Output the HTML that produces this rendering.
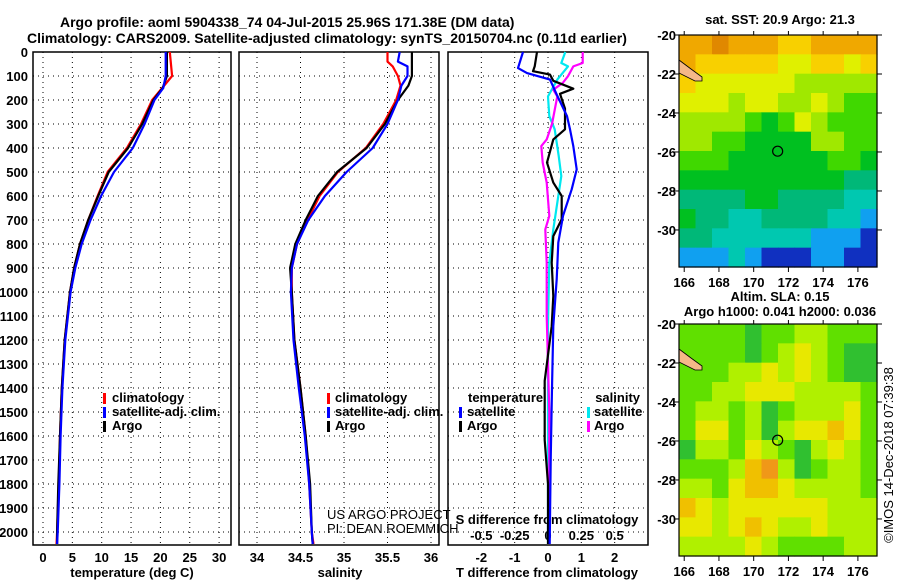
<!DOCTYPE html>
<html><head><meta charset="utf-8">
<style>
html,body{margin:0;padding:0;background:#fff;}
svg{display:block;font-family:"Liberation Sans",Arial,sans-serif;}
.b{font-weight:bold;font-size:13px;}
.t{font-weight:bold;font-size:14px;}
</style></head>
<body>
<svg id="fig" width="900" height="580" viewBox="0 0 900 580" xmlns="http://www.w3.org/2000/svg">
<rect width="900" height="580" fill="#fff"/>
<text class="t" x="60" y="27">Argo profile: aoml 5904338_74 04-Jul-2015 25.96S 171.38E (DM data)</text>
<text class="t" x="27" y="43">Climatology: CARS2009. Satellite-adjusted climatology: synTS_20150704.nc (0.11d earlier)</text>
<g id="g"></g>
</svg>
<script>
// ---- data ----
const depthTicks=[0,100,200,300,400,500,600,700,800,900,1000,1100,1200,1300,1400,1500,1600,1700,1800,1900,2000];
const tTicks=[0,5,10,15,20,25,30];
const sTicks=[34,34.5,35,35.5,36];
const dtTicks=[-2,-1,0,1,2];
const dsTicks=[-0.5,-0.25,0,0.25,0.5];
const dsTickLabels=["-0.5","-0.25","0","0.25","0.5"];
const lonTicks=[166,168,170,172,174,176];
const latTicks=[-20,-22,-24,-26,-28,-30];

const tDepth=[0,100,150,200,300,400,500,600,700,800,900,1000,1200,1400,1600,1800,2000,2050];
const tClim=[21.6,22.0,20.3,18.6,16.7,14.3,11.0,9.3,7.7,6.3,5.3,4.6,3.7,3.2,2.9,2.7,2.4,2.3];
const tSat=[20.9,20.9,20.5,19.0,17.3,15.3,12.1,9.9,8.1,6.6,5.5,4.7,3.8,3.3,3.0,2.8,2.5,2.4];
const tArgo=[21.1,21.1,20.4,18.8,16.9,14.5,11.2,9.4,7.7,6.3,5.3,4.6,3.7,3.2,2.9,2.6,2.4,2.4];

const sDepth=[0,40,60,100,140,200,300,400,500,600,700,800,900,1000,1200,1400,1600,1800,2000,2050];
const sClim=[35.50,35.50,35.56,35.62,35.65,35.60,35.45,35.25,34.93,34.72,34.58,34.46,34.40,34.40,34.43,34.50,34.56,34.60,34.63,34.65];
const sSat=[35.64,35.62,35.73,35.73,35.66,35.62,35.50,35.33,35.03,34.78,34.59,34.46,34.40,34.39,34.42,34.48,34.55,34.60,34.63,34.64];
const sArgo=[35.78,35.78,35.78,35.78,35.74,35.62,35.47,35.26,34.92,34.70,34.56,34.44,34.38,34.40,34.43,34.50,34.56,34.61,34.63,34.64];

const dtSatDepth=[0,67,88,115,177,267,322,392,489,572,683,794,947,1142,1400,1700,2050];
const dtSat=[-0.75,-0.9,-0.63,0.06,0.26,0.57,0.66,0.76,0.86,0.71,0.45,0.31,0.26,0.16,0.12,0.08,0.05];
const dtArgoDepth=[0,60,80,94,120,153,174,236,322,364,461,544,600,697,767,878,1017,1142,1370,1617,1800,2050];
const dtArgo=[-0.33,-0.4,-0.45,0.06,0.16,0.76,0.36,0.51,0.51,0.16,-0.03,0.16,0.41,0.41,0.16,0.11,0.16,0.11,-0.1,-0.1,0.0,0.0];
const dsSatDepth=[0,46,60,115,185,267,322,433,517,628,739,878,1142,1500,2050];
const dsSat=[0.13,0.1,0.15,0.07,0.0,0.01,0.05,0.08,0.1,0.07,0.04,0.01,0.0,0.0,0.0];
const dsArgoDepth=[0,46,60,101,129,157,185,300,364,392,461,544,683,739,878,1100,1500,2050];
const dsArgo=[0.26,0.26,0.19,0.15,0.11,0.04,0.07,0.03,-0.01,-0.05,-0.04,-0.01,0.01,-0.02,-0.01,-0.01,0.01,0.01];

const sstGrid=[
[9,9,10,9,9,9,8,8,9,9,9,9],
[9,8,8,8,8,8,7,7,8,8,7,8],
[8,7,7,7,7,7,7,6,6,6,6,6],
[7,7,7,6,7,7,6,6,7,6,5,5],
[6,6,6,6,5,4,5,7,6,5,5,5],
[6,6,5,5,4,4,4,4,6,6,5,5],
[5,5,5,4,4,4,4,4,4,5,5,4],
[4,4,4,4,4,4,4,4,4,4,3,3],
[3,3,3,3,4,4,3,3,3,3,2,2],
[4,3,3,2,2,3,3,3,3,2,2,1],
[3,3,2,2,2,2,2,2,1,1,1,0],
[1,1,1,2,1,0,0,0,1,1,0,0]];
const slaGrid=[
[2,2,2,2,1,2,2,3,3,2,2,2],
[2,2,2,2,1,2,3,4,3,2,1,1],
[2,2,2,3,3,4,3,4,3,2,1,1],
[2,2,3,3,4,4,4,3,3,3,3,2],
[2,3,3,2,3,1,2,3,3,3,4,2],
[2,4,4,2,3,1,3,4,4,5,4,2],
[1,3,3,2,4,3,2,1,3,4,3,2],
[2,2,2,3,5,6,3,1,2,3,3,2],
[3,3,2,4,5,5,4,3,3,3,3,2],
[5,4,3,4,4,4,4,4,4,3,3,3],
[4,4,3,4,5,4,3,3,4,3,3,3],
[3,3,3,3,4,3,2,2,2,2,3,3]];
const floatLon=171.38, floatLat=-25.96;

const sstColors=["#1030c0","#10a0f0","#00c8b0","#00b878","#00c020","#40d800","#a0e800","#e0f000","#f8d000","#f0a800","#e08800"];
const slaColors=["#20a858","#30c030","#60e000","#b0f000","#e8e800","#f0c000","#f09818"];

// ---- helpers ----
const NS="http://www.w3.org/2000/svg";
const G=document.getElementById('g');
function mk(tag,attrs,parent){const e=document.createElementNS(NS,tag);for(const k in attrs)e.setAttribute(k,attrs[k]);(parent||G).appendChild(e);return e;}
const Y=d=>52+0.24*d;
const xT=v=>43+5.87*v;
const xS=v=>257+87*(v-34);
const xDT=v=>548+33.33*v;
const xDS=v=>548+133.3*v;

function panel(x0,x1,xs,name){
  const f=mk('rect',{x:x0,y:52,width:x1-x0,height:493,fill:'none',stroke:'#000','stroke-width':1.5});
  
  
  xs.forEach(x=>{const l=mk('line',{x1:x,x2:x,y1:52,y2:545,stroke:'#000','stroke-width':1,'stroke-dasharray':'1,4'});
    
    });
  depthTicks.forEach(d=>{const l=mk('line',{x1:x0,x2:x1,y1:Y(d),y2:Y(d),stroke:'#000','stroke-width':1,'stroke-dasharray':'1,4'});
    
    });
}
function line(depths,vals,xf,color,name){
  let p='';depths.forEach((d,i)=>{p+=(i?'L':'M')+xf(vals[i]).toFixed(1)+','+Y(d).toFixed(1);});
  const e=mk('path',{d:p,fill:'none',stroke:color,'stroke-width':2.2,'stroke-linejoin':'round'});
  
  
}
function txt(x,y,s,cls,anchor,name,fill){
  const e=mk('text',{x:x,y:y,'class':cls,'text-anchor':anchor||'start',fill:fill||'#000'});e.textContent=s;
  
  
  return e;
}
function legMark(x,y,color,name){const e=mk('rect',{x:x,y:y-10,width:3,height:11,fill:color});
  
  }

// panel 1 temperature
panel(33,231,tTicks.map(xT),'temperature-panel');
depthTicks.forEach(d=>txt(28,Y(d)+5,String(d),'b','end','depth-tick-label'));
tTicks.forEach(t=>txt(xT(t),562,String(t),'b','middle','temperature-tick-label'));
txt(132,577,'temperature (deg C)','b','middle','temperature-axis-title');
line(tDepth,tClim,xT,'#f00','temperature-climatology-line');
line(tDepth,tArgo,xT,'#000','temperature-argo-line');
line(tDepth,tSat,xT,'#00f','temperature-satellite-line');
legMark(103,403,'#f00','legend-climatology-mark');txt(112,402,'climatology','b','start','legend-climatology');
legMark(103,417,'#00f','legend-satellite-mark');txt(112,416,'satellite-adj. clim.','b','start','legend-satellite');
legMark(103,431,'#000','legend-argo-mark');txt(112,430,'Argo','b','start','legend-argo');

// panel 2 salinity
panel(239,439,sTicks.map(xS),'salinity-panel');
sTicks.forEach(s=>txt(xS(s),562,String(s),'b','middle','salinity-tick-label'));
txt(340,577,'salinity','b','middle','salinity-axis-title');
line(sDepth,sClim,xS,'#f00','salinity-climatology-line');
line(sDepth,sArgo,xS,'#000','salinity-argo-line');
line(sDepth,sSat,xS,'#00f','salinity-satellite-line');
legMark(327,403,'#f00','legend2-climatology-mark');txt(335,402,'climatology','b','start','legend2-climatology');
legMark(327,417,'#00f','legend2-satellite-mark');txt(335,416,'satellite-adj. clim.','b','start','legend2-satellite');
legMark(327,431,'#000','legend2-argo-mark');txt(335,430,'Argo','b','start','legend2-argo');
txt(327,519,'US ARGO PROJECT','','start','credit-project').setAttribute('style','font-size:13px');
txt(327,533,'PI: DEAN ROEMMICH','','start','credit-pi').setAttribute('style','font-size:13px');

// panel 3 differences
panel(448,648,dtTicks.map(xDT),'difference-panel');
dtTicks.forEach(v=>txt(xDT(v),562,String(v),'b','middle','t-diff-tick-label'));
txt(547,577,'T difference from climatology','b','middle','t-diff-axis-title');
dsTicks.forEach((v,i)=>txt(xDS(v),540,dsTickLabels[i],'b','middle','s-diff-tick-label'));
txt(547,524,'S difference from climatology','b','middle','s-diff-axis-title');
line(dsSatDepth,dsSat,xDS,'#00e8f0','s-diff-satellite-line');
line(dsArgoDepth,dsArgo,xDS,'#f0f','s-diff-argo-line');
line(dtArgoDepth,dtArgo,xDT,'#000','t-diff-argo-line');
line(dtSatDepth,dtSat,xDT,'#00f','t-diff-satellite-line');
txt(468,402,'temperature','b','start','legend3-temperature-header');
legMark(459,417,'#00f','legend3-t-satellite-mark');txt(467,416,'satellite','b','start','legend3-t-satellite');
legMark(459,431,'#000','legend3-t-argo-mark');txt(467,430,'Argo','b','start','legend3-t-argo');
txt(640,402,'salinity','b','end','legend3-salinity-header');
legMark(587,417,'#00e8f0','legend3-s-satellite-mark');txt(594,416,'satellite','b','start','legend3-s-satellite');
legMark(587,431,'#f0f','legend3-s-argo-mark');txt(594,430,'Argo','b','start','legend3-s-argo');

// maps
function map(top,grid,colors,name){
  const L=679,R=877,H=232,lon0=165.7,lon1=177.1,lat0=-20,lat1=-31.9;
  const mx=lon=>L+(lon-lon0)/(lon1-lon0)*(R-L);
  const my=lat=>top+(lat0-lat)/(lat0-lat1)*H;
  const rows=grid.length,cols=grid[0].length,cw=(R-L)/cols,ch=H/rows;
  grid.forEach((row,r)=>row.forEach((v,c)=>{
    const e=mk('rect',{x:(L+c*cw).toFixed(2),y:(top+r*ch).toFixed(2),width:(cw+0.6).toFixed(2),height:(ch+0.6).toFixed(2),fill:colors[v]});
    
    
  }));
  const land=mk('path',{d:`M${L},${top+25}L${L+12},${top+34}L${L+23},${top+42}L${L+23},${top+46}L${L+16},${top+46}L${L},${top+38}Z`,fill:'#f5b888',stroke:'#000','stroke-width':0.8});
  
  
  const c=mk('circle',{cx:mx(floatLon),cy:my(floatLat),r:5,fill:'none',stroke:'#000','stroke-width':1.2});
  
  
  const f=mk('rect',{x:L,y:top,width:R-L,height:H,fill:'none',stroke:'#000','stroke-width':1.2});
  
  
  latTicks.forEach(lat=>{
    const tk=mk('line',{x1:L-5,x2:L,y1:my(lat),y2:my(lat),stroke:'#000'});
    
    
    const tk2=mk('line',{x1:R,x2:R+5,y1:my(lat),y2:my(lat),stroke:'#000'});
    
    
    txt(L-3,my(lat)+5,String(lat),'b','end',name+'-lat-label');
  });
  lonTicks.forEach(lon=>{
    const tk=mk('line',{x1:mx(lon),x2:mx(lon),y1:top+H,y2:top+H+5,stroke:'#000'});
    
    
    const tk2=mk('line',{x1:mx(lon),x2:mx(lon),y1:top-4,y2:top,stroke:'#000'});
    
    
    txt(mx(lon),top+H+20,String(lon),'b','middle',name+'-lon-label');
  });
}
map(35,sstGrid,sstColors,'sst-map');
map(324,slaGrid,slaColors,'sla-map');
txt(780,24,'sat. SST: 20.9 Argo: 21.3','b','middle','sst-map-title');
txt(780,301,'Altim. SLA: 0.15','b','middle','sla-map-title');
txt(780,316,'Argo h1000: 0.041 h2000: 0.036','b','middle','sla-map-subtitle');
const ts=txt(0,0,'©IMOS 14-Dec-2018 07:39:38','','middle','timestamp');
ts.setAttribute('style','font-size:13px');
ts.setAttribute('transform','translate(893,455) rotate(-90)');
</script>
</body></html>
